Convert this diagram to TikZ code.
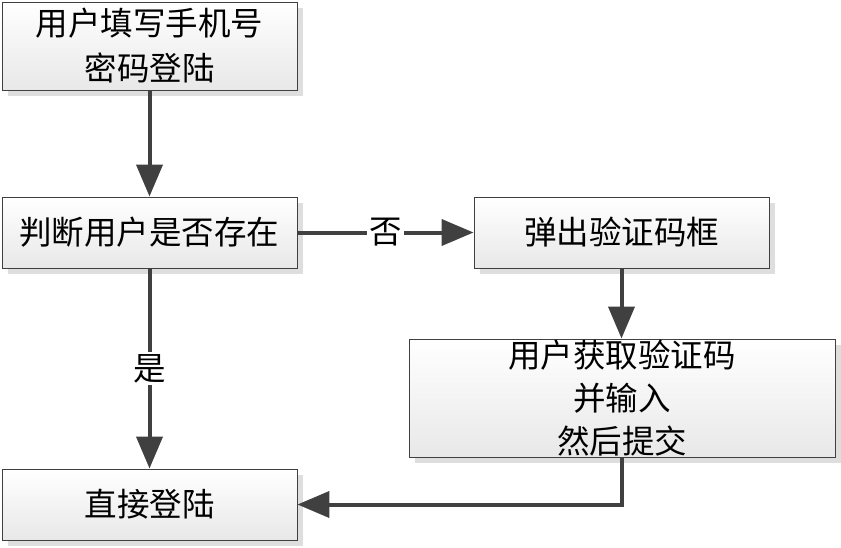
\documentclass[tikz,border=0pt]{standalone}
\usepackage{fontspec}
\newfontfamily\cjk{Noto Sans CJK SC}
\usetikzlibrary{arrows.meta,shadows}
\definecolor{edge}{HTML}{404040}
\tikzset{
  box/.style={draw=edge, line width=0.9pt, top color=white, bottom color=black!9,
    general shadow={fill=black!13, shadow xshift=6pt, shadow yshift=-6pt},
    align=center, inner sep=0pt, font=\cjk\fontsize{32.5}{44}\selectfont},
  conn/.style={draw=edge, line width=4pt, -{Triangle[length=32pt,width=26pt]}},
  lbl/.style={fill=white, inner sep=2pt, font=\cjk\fontsize{32.5}{36}\selectfont}
}
\begin{document}
\begin{tikzpicture}[x=1pt,y=-1pt]
\useasboundingbox (0,0) rectangle (841,547);
\node[box, minimum width=295pt, minimum height=88pt] (b1) at (149.5,46) {用户填写手机号\\[1pt]密码登陆};
\node[box, minimum width=295pt, minimum height=71pt] (b2) at (149.5,232.5) {判断用户是否存在};
\node[box, minimum width=295pt, minimum height=71pt] (b3) at (621.5,232.5) {弹出验证码框};
\node[box, minimum width=426pt, minimum height=118pt] (b4) at (622,398) {用户获取验证码\\[-1pt]并输入\\[-1pt]然后提交};
\node[box, minimum width=295pt, minimum height=71pt] (b5) at (149.5,504.5) {直接登陆};
\draw[conn] (b1) -- (b2);
\draw[conn] (b2) -- node[lbl] (no) {否} (b3);
\draw[conn] (b3.south) -- (b3.south |- b4.north);
\draw[conn] (b2) -- node[lbl] (yes) {是} (b5);
\draw[conn] (b4.south) |- (b5.east);
\end{tikzpicture}
\end{document}
